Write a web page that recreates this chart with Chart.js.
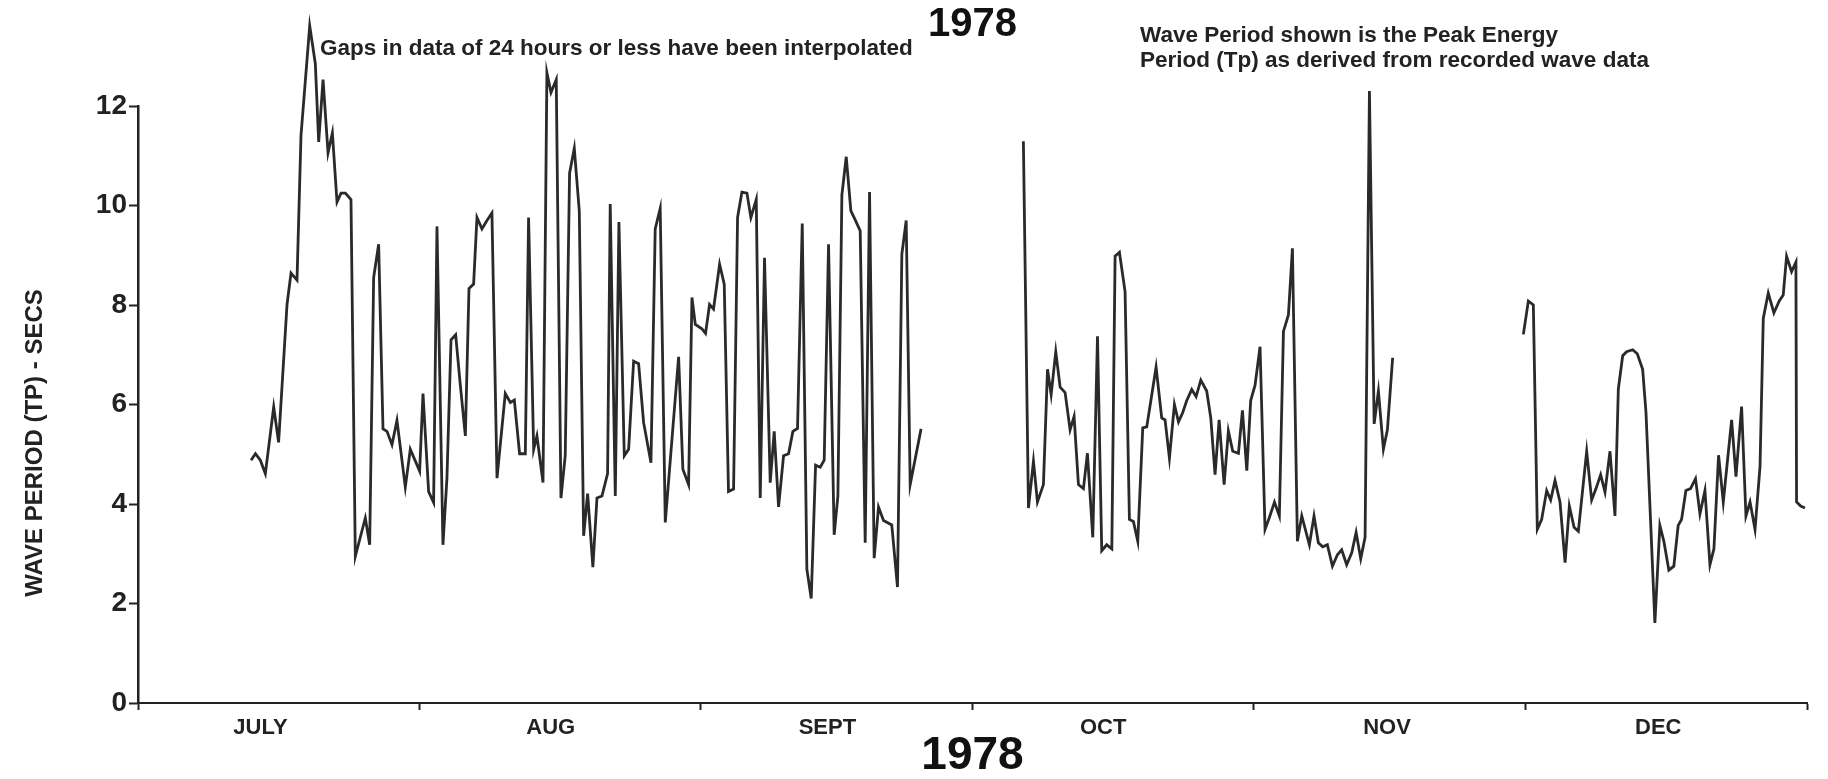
<!DOCTYPE html>
<html>
<head>
<meta charset="utf-8">
<script src="https://cdn.jsdelivr.net/npm/chart.js@4.4.1/dist/chart.umd.min.js"></script>
<style>
  html, body { margin: 0; padding: 0; background: #fff; }
  #wrap { width: 1828px; height: 779px; }
</style>
</head>
<body>
<div id="wrap"><canvas id="waveChart"></canvas></div>
<script>
// days since 1 July 1978, null period = gap in record
const days = [
  12.46, 12.95, 13.49, 14.04, 14.96, 15.5, 16.43, 16.87, 17.53, 17.97,
  18.93, 19.55, 19.92, 20.4, 20.95, 21.43, 21.94, 22.38, 22.86, 23.48,
  23.96, 25.06, 25.54, 25.98, 26.53, 27.01, 27.45, 28.0, 28.55, 29.47,
  30.02, 31.05, 31.42, 32.04, 32.59, 32.96, 33.62, 34.06, 34.51, 35.02,
  35.53, 36.09, 36.49, 37.0, 37.37, 37.92, 38.47, 39.02, 39.58, 40.49,
  41.05, 41.49, 42.07, 42.7, 43.06, 43.62, 43.98, 44.65, 45.08, 45.53,
  46.11, 46.63, 47.1, 47.58, 48.1, 48.65, 49.13, 49.57, 50.15, 50.6,
  51.15, 51.77, 52.06, 52.62, 53.02, 53.61, 54.09, 54.64, 55.19, 55.74,
  56.55, 57.02, 57.57, 58.13, 59.6, 60.07, 60.7, 61.07, 61.44, 62.17,
  62.57, 63.01, 63.45, 64.12, 64.63, 65.1, 65.66, 66.1, 66.58, 67.13,
  67.57, 68.16, 68.6, 69.07, 69.7, 70.14, 70.62, 71.17, 71.72, 72.2,
  72.71, 73.23, 73.74, 74.22, 74.7, 75.21, 75.65, 76.13, 76.75, 77.16,
  77.6, 78.08, 78.59, 79.07, 79.62, 80.17, 80.65, 81.16, 81.64, 82.19,
  83.1, 83.73, 84.21, 84.69, 85.13, 86.33,
  92,
  97.61, 98.17, 98.72, 99.16, 99.82, 100.27, 100.67, 101.18, 101.66, 102.21,
  102.76, 103.2, 103.68, 104.23, 104.67, 105.26, 105.78, 106.25, 106.8, 107.36,
  107.72, 108.2, 108.82, 109.3, 109.74, 110.22, 110.77, 111.21, 112.24, 112.86,
  113.23, 113.71, 114.26, 114.71, 115.18, 115.62, 116.17, 116.65, 117.17, 117.82,
  118.27, 118.74, 119.19, 119.74, 120.21, 120.69, 121.32, 121.76, 122.24, 122.67,
  123.15, 123.7, 124.25, 124.73, 125.29, 125.83, 126.28, 126.83, 127.27, 127.82,
  128.3, 129.14, 129.65, 130.13, 130.61, 131.12, 131.68, 132.23, 132.7, 133.25,
  133.81, 134.29, 134.8, 135.28, 135.76, 136.28, 136.75, 137.3, 137.74, 138.32,
  145,
  152.73, 153.28, 153.83, 154.27, 154.75, 155.3, 155.74, 156.22, 156.77, 157.33,
  157.8, 158.32, 158.79, 159.71, 160.26, 160.74, 161.25, 161.73, 162.28, 162.83,
  163.2, 163.68, 164.11, 164.78, 165.29, 165.88, 166.25, 167.23, 167.78, 168.22,
  168.77, 169.32, 169.8, 170.17, 170.65, 171.16, 171.71, 172.2, 172.75, 173.3,
  173.74, 174.25, 174.77, 175.69, 176.17, 176.79, 177.27, 177.72, 178.27, 178.82,
  179.18, 179.73, 180.35, 180.94, 181.38, 181.75, 182.3, 182.78, 182.85, 183.3,
  183.77
];
const period = [
  4.88, 5.01, 4.88, 4.61, 5.95, 5.24, 8.01, 8.64, 8.5, 11.41,
  13.61, 12.85, 11.28, 12.53, 11.06, 11.46, 10.07, 10.25, 10.25, 10.12,
  2.95, 3.72, 3.18, 8.55, 9.22, 5.51, 5.46, 5.19, 5.68, 4.34,
  5.1, 4.66, 6.22, 4.25, 4.03, 9.58, 3.18, 4.52, 7.3, 7.4,
  6.4, 5.37, 8.33, 8.42, 9.76, 9.53, 9.7, 9.85, 4.52, 6.22,
  6.04, 6.09, 5.01, 5.01, 9.76, 5.1, 5.37, 4.43, 12.67, 12.27,
  12.53, 4.12, 4.97, 10.65, 11.15, 9.89, 3.36, 4.21, 2.73, 4.12,
  4.16, 4.61, 10.03, 4.16, 9.67, 4.97, 5.1, 6.87, 6.82, 5.64,
  4.83, 9.53, 9.94, 3.63, 6.96, 4.7, 4.39, 8.15, 7.61, 7.52,
  7.43, 8.01, 7.92, 8.82, 8.42, 4.25, 4.3, 9.76, 10.27, 10.25,
  9.76, 10.12, 4.12, 8.95, 4.43, 5.46, 3.94, 4.97, 5.01, 5.46,
  5.52, 9.64, 2.69, 2.1, 4.78, 4.74, 4.88, 9.22, 3.38, 4.16,
  10.21, 10.98, 9.89, 9.71, 9.49, 3.22, 10.27, 2.91, 3.94, 3.67,
  3.58, 2.33, 9.02, 9.7, 4.39, 5.51,
  null,
  11.29, 3.92, 4.86, 4.04, 4.39, 6.71, 6.2, 7.06, 6.35, 6.24,
  5.49, 5.76, 4.39, 4.31, 5.02, 3.33, 7.37, 3.06, 3.18, 3.1,
  8.98, 9.06, 8.27, 3.69, 3.65, 3.25, 5.53, 5.55, 6.75, 5.73,
  5.69, 4.92, 6.0, 5.65, 5.84, 6.08, 6.3, 6.16, 6.49, 6.27,
  5.73, 4.59, 5.69, 4.39, 5.47, 5.06, 5.02, 5.88, 4.67, 6.08,
  6.39, 7.16, 3.49, 3.73, 4.04, 3.76, 7.47, 7.8, 9.14, 3.25,
  3.76, 3.18, 3.76, 3.22, 3.14, 3.18, 2.75, 2.98, 3.08, 2.78,
  3.02, 3.43, 2.9, 3.33, 12.3, 5.61, 6.27, 5.1, 5.49, 6.94,
  null,
  7.41, 8.08, 8.0, 3.49, 3.69, 4.27, 4.08, 4.47, 4.04, 2.82,
  3.96, 3.53, 3.45, 5.06, 4.08, 4.31, 4.59, 4.24, 5.06, 3.76,
  6.31, 6.98, 7.06, 7.1, 7.02, 6.71, 5.84, 1.61, 3.57, 3.25,
  2.67, 2.75, 3.57, 3.69, 4.27, 4.31, 4.51, 3.8, 4.27, 2.78,
  3.1, 4.98, 4.04, 5.69, 4.55, 5.96, 3.76, 4.04, 3.49, 4.75,
  7.73, 8.24, 7.84, 8.08, 8.2, 8.98, 8.67, 8.86, 4.04, 3.96,
  3.92
];

const monthEdges = [0, 31, 62, 92, 123, 153, 184];
const monthNames = ['JULY', 'AUG', 'SEPT', 'OCT', 'NOV', 'DEC'];
const monthLabelAt = [13.5, 45.5, 76, 106.4, 137.7, 167.6];
const yTicks = [0, 2, 4, 6, 8, 10, 12];

const ink = '#222';
const narrow = '"Liberation Sans Narrow", "Liberation Sans", Arial, sans-serif';
const sans = '"Liberation Sans", Arial, sans-serif';

// notes and rotated axis caption
const notes = {
  id: 'notes',
  afterDraw(chart) {
    const c = chart.ctx;
    c.save();
    c.fillStyle = ink;
    c.textBaseline = 'middle';
    c.textAlign = 'left';
    c.font = 'bold 22.5px ' + sans;
    c.fillText('Gaps in data of 24 hours or less have been interpolated', 320, 49);
    c.fillText('Wave Period shown is the Peak Energy', 1140, 36);
    c.fillText('Period (Tp) as derived from recorded wave data', 1140, 61);
    c.translate(35, 443);
    c.rotate(-Math.PI / 2);
    c.textAlign = 'center';
    c.font = 'bold 24px ' + narrow;
    c.fillText('WAVE PERIOD (TP) - SECS', 0, 0);
    c.restore();
  }
};

new Chart(document.getElementById('waveChart'), {
  type: 'line',
  data: {
    datasets: [{
      data: days.map((d, i) => ({ x: d, y: period[i] })),
      borderColor: '#2a2a2a',
      borderWidth: 2.8,
      pointRadius: 0,
      tension: 0,
      spanGaps: false,
      clip: false
    }]
  },
  options: {
    responsive: true,
    maintainAspectRatio: false,
    animation: false,
    layout: { padding: { left: 0, right: 21, top: 0, bottom: 0 } },
    plugins: {
      legend: { display: false },
      tooltip: { enabled: false },
      title: {
        display: true,
        text: '1978',
        fullSize: false,
        color: '#111',
        font: { family: sans, weight: 'bold', size: 40, lineHeight: 1 },
        padding: { top: 5, bottom: 61 }
      }
    },
    scales: {
      x: {
        type: 'linear',
        min: 0,
        max: 184,
        afterFit: s => { s.height = 76; },
        afterBuildTicks: s => {
          s.ticks = monthEdges.map(v => ({ value: v }))
            .concat(monthLabelAt.map(v => ({ value: v })));
        },
        ticks: {
          autoSkip: false,
          maxRotation: 0,
          padding: 5,
          color: ink,
          font: { family: narrow, weight: 'bold', size: 22 },
          callback: v => {
            const i = monthLabelAt.indexOf(v);
            return i >= 0 ? monthNames[i] : '';
          }
        },
        grid: {
          drawOnChartArea: false,
          tickLength: 7,
          tickWidth: 2,
          tickColor: ctx => monthEdges.includes(ctx.tick.value) ? ink : 'rgba(0,0,0,0)'
        },
        border: { color: ink, width: 2 },
        title: {
          display: true,
          text: '1978',
          color: '#111',
          font: { family: narrow, weight: 'bold', size: 46, lineHeight: 1 },
          padding: { top: 0, bottom: 0 }
        }
      },
      y: {
        type: 'linear',
        min: 0,
        max: 12,
        afterFit: s => { s.width = 138; },
        afterBuildTicks: s => { s.ticks = yTicks.map(v => ({ value: v })); },
        ticks: {
          padding: 2,
          color: ink,
          font: { family: narrow, weight: 'bold', size: 28 }
        },
        grid: { drawOnChartArea: false, tickLength: 9, tickWidth: 2, color: ink },
        border: { color: ink, width: 2.5 }
      }
    }
  },
  plugins: [notes]
});
</script>
</body>
</html>
